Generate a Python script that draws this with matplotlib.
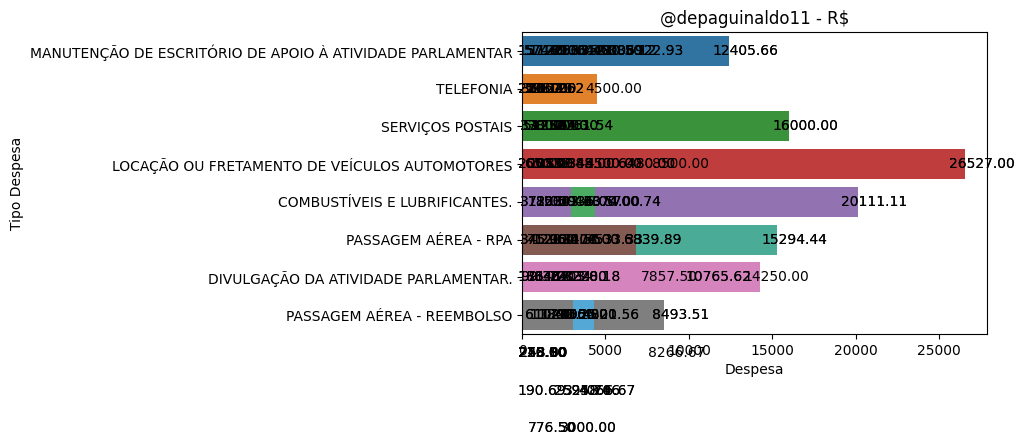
import matplotlib
matplotlib.use("Agg")
import matplotlib.pyplot as plt

categories = [
    "MANUTENÇÃO DE ESCRITÓRIO DE APOIO À ATIVIDADE PARLAMENTAR",
    "TELEFONIA",
    "SERVIÇOS POSTAIS",
    "LOCAÇÃO OU FRETAMENTO DE VEÍCULOS AUTOMOTORES",
    "COMBUSTÍVEIS E LUBRIFICANTES.",
    "PASSAGEM AÉREA - RPA",
    "DIVULGAÇÃO DA ATIVIDADE PARLAMENTAR.",
    "PASSAGEM AÉREA - REEMBOLSO",
]

# bars (drawn in order, later ones on top)
bar_cat = [0, 1, 2, 3, 4, 4, 4, 5, 5, 6, 7, 7, 7]
bar_val = [12405.66, 4500.00, 16000.00, 26527.00, 20111.11, 4374.00, 2936.00,
           15294.44, 6839.89, 14250.00, 8493.51, 4321.56, 3050.00]
bar_col = ["#3274a1", "#e1812c", "#3a923a", "#c03d3e", "#9372b2", "#4cab63", "#9372b2",
           "#4aab97", "#845b53", "#d684bd", "#7f7f7f", "#53a8d6", "#7f7f7f"]

# value labels: row position, value, times drawn
label_row = [0] * 10 + [1] * 6 + [2] * 7 + [3] * 9 + [4] * 8 + [5] * 8 + [6] * 9 + [7] * 7 \
    + [8] * 5 + [9] * 4 + [10] * 2
label_val = [
    157.40, 574.20, 1120.00, 1890.35, 2563.40, 3612.00, 4480.50, 5388.12, 6922.93, 12405.66,
    226.12, 350.00, 598.40, 812.00, 1062.62, 4500.00,
    330.00, 512.00, 780.45, 1250.00, 1864.30, 2761.54, 16000.00,
    200.00, 650.00, 1083.34, 1557.88, 2845.00, 4500.00, 6480.00, 8500.00, 26527.00,
    312.00, 780.50, 1530.43, 2043.60, 2936.00, 4374.00, 5700.74, 20111.11,
    345.00, 712.60, 1296.40, 2030.55, 3178.00, 4533.33, 6839.89, 15294.44,
    99.30, 186.70, 734.20, 1467.34, 2403.00, 3228.18, 7857.50, 10765.62, 14250.00,
    610.40, 1180.00, 1790.25, 2456.00, 3050.00, 4321.56, 8493.51,
    210.00, 225.10, 248.90, 258.80, 8266.67,
    190.69, 2595.74, 3248.06, 4066.67,
    776.50, 3000.00,
]
label_rep = [
    2, 2, 2, 2, 2, 2, 2, 2, 2, 2,
    2, 2, 2, 2, 2, 1,
    2, 2, 2, 2, 2, 2, 2,
    2, 2, 2, 2, 2, 2, 2, 1, 2,
    2, 2, 2, 2, 2, 2, 2, 2,
    2, 2, 2, 2, 2, 2, 2, 2,
    2, 2, 2, 2, 2, 2, 1, 2, 1,
    2, 2, 2, 2, 2, 2, 2,
    2, 2, 2, 2, 1,
    2, 2, 2, 2,
    2, 2,
]

fig = plt.figure(figsize=(10.22, 4.47), dpi=100)
ax = fig.add_axes([522 / 1022, (447 - 334) / 447, 465 / 1022, 302 / 447])

for c, v, col in zip(bar_cat, bar_val, bar_col):
    ax.barh(c, v, height=0.8, color=col)

ax.set_yticks(range(len(categories)))
ax.set_yticklabels(categories)
ax.set_ylim(len(categories) - 0.5, -0.5)

for r, v, n in zip(label_row, label_val, label_rep):
    for _ in range(n):
        ax.text(v + 1000, r, f"{v:.2f}", ha="center", va="center", fontsize=10,
                color="black", clip_on=False)

ax.set_xlabel("Despesa")
ax.set_ylabel("Tipo Despesa")
ax.set_title("@depaguinaldo11 - R$")

fig.savefig("out.png", dpi=100)
